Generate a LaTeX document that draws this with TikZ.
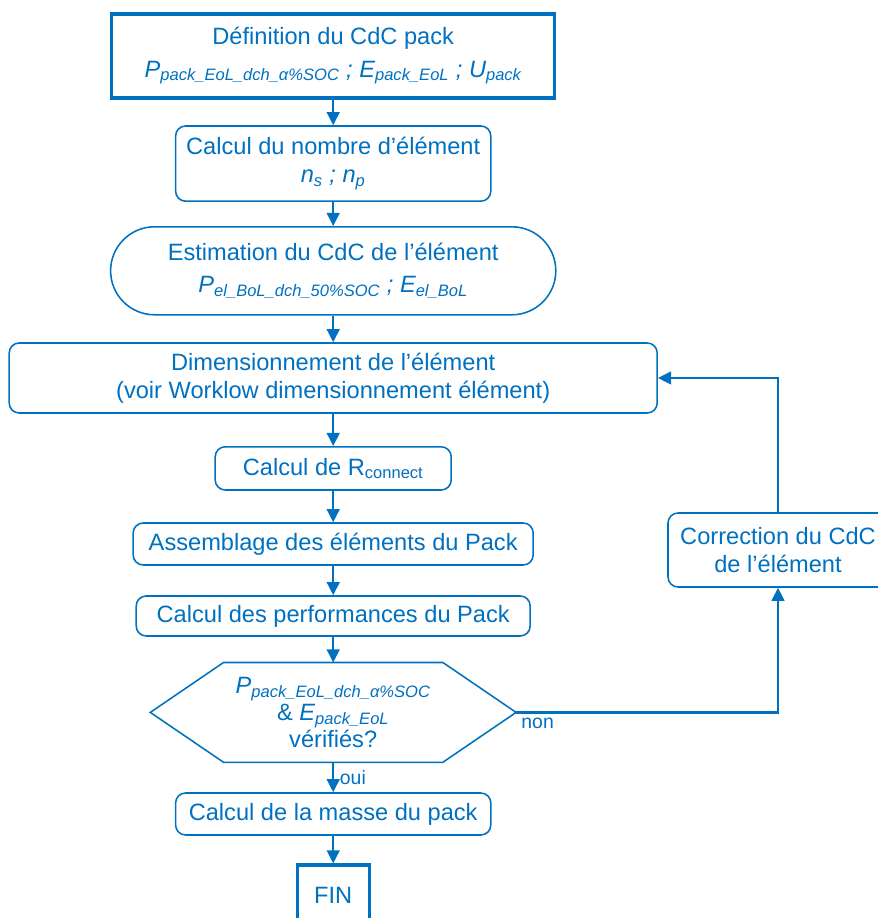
\documentclass[tikz,border=0pt]{standalone}
\usepackage{fontspec}
\setmainfont{Liberation Sans}
\usetikzlibrary{arrows.meta,positioning,calc}
\definecolor{cdcblue}{RGB}{0,112,192}
\newcommand{\ind}[1]{\textsubscript{#1}}

\begin{document}
\begin{tikzpicture}[>={Triangle[length=0.33cm,width=0.32cm]},
 font=\fontsize{16.8}{20}\selectfont,text=cdcblue,
 box/.style={draw=cdcblue,line width=1.1pt,rounded corners=0.25cm,align=center,inner sep=0pt},
 thickbox/.style={draw=cdcblue,line width=2.2pt,align=center,inner sep=0pt},
 lnk/.style={->,draw=cdcblue,line width=1.6pt},
 lbl/.style={font=\fontsize{13.8}{16}\selectfont}]
\useasboundingbox (0,0) rectangle (21.925,22.95);
\node[thickbox,minimum width=11.08cm,minimum height=2.1cm] (def) at (8.33,21.55)
 {Définition du CdC pack\\[3pt] \textit{P\ind{pack\_EoL\_dch\_α\%SOC} ; E\ind{pack\_EoL} ; U\ind{pack}}};
\node[box,minimum width=7.88cm,minimum height=1.88cm] (nb) at (8.33,18.86)
 {Calcul du nombre d’élément\\ \textit{n\ind{s} ; n\ind{p}}};
\node[box,rounded corners=1.1cm,minimum width=11.13cm,minimum height=2.2cm] (estim) at (8.33,16.18)
 {Estimation du CdC de l’élément\\[3pt] \textit{P\ind{el\_BoL\_dch\_50\%SOC} ; E\ind{el\_BoL}}};
\node[box,minimum width=16.2cm,minimum height=1.75cm] (dim) at (8.33,13.5)
 {Dimensionnement de l’élément\\ (voir Worklow dimensionnement élément)};
\node[box,minimum width=5.9cm,minimum height=1.08cm] (rc) at (8.33,11.24) {Calcul de R\ind{connect}};
\node[box,minimum width=10.0cm,minimum height=1.05cm] (asm) at (8.33,9.35) {Assemblage des éléments du Pack};
\node[box,minimum width=9.85cm,minimum height=1.0cm] (perf) at (8.33,7.55) {Calcul des performances du Pack};
% test node, hexagon drawn round it
\node[minimum width=9.13cm,minimum height=2.48cm,inner sep=0pt,align=center,
 font=\fontsize{16.8}{19}\selectfont] (hex) at (8.33,5.14)
 {\textit{P\ind{pack\_EoL\_dch\_α\%SOC}}\\ \& \textit{E\ind{pack\_EoL}}\\ vérifiés?};
\draw[cdcblue,line width=1.1pt] (hex.west) -- ($(hex.north west)+(1.83,0)$) -- ($(hex.north east)+(-1.83,0)$)
 -- (hex.east) -- ($(hex.south east)+(-1.83,0)$) -- ($(hex.south west)+(1.83,0)$) -- cycle;
\node[box,minimum width=7.88cm,minimum height=1.05cm] (masse) at (8.33,2.6) {Calcul de la masse du pack};
\node[thickbox,minimum width=1.8cm,minimum height=1.5cm] (fin) at (8.33,0.575) {FIN};
\node[box,minimum width=5.5cm,minimum height=1.85cm] (corr) at (19.45,9.2)
 {Correction du CdC\\ de l’élément};
\draw[lnk] (def) -- (nb);
\draw[lnk] (nb) -- (estim);
\draw[lnk] (estim) -- (dim);
\draw[lnk] (dim) -- (rc);
\draw[lnk] (rc) -- (asm);
\draw[lnk] (asm) -- (perf);
\draw[lnk] (perf) -- (hex);
\draw[lnk] (hex) -- node[lbl,right,inner sep=4pt]{oui} (masse);
\draw[lnk] (masse) -- (fin);
\draw[lnk] (hex.east) -| node[lbl,pos=0,below right,inner sep=3pt]{non} (corr.south);
\draw[lnk] (corr.north) |- (dim.east);
\end{tikzpicture}
\end{document}
